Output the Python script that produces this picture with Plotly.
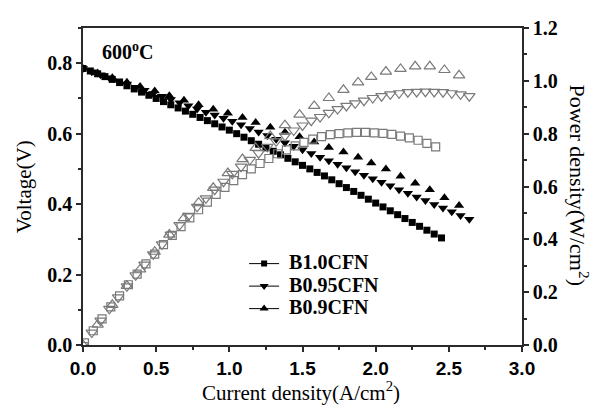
import plotly.graph_objects as go

# ---------------- data ----------------
# B1.0CFN
i_v_b10 = [0.00, 0.05, 0.10, 0.15, 0.20, 0.25, 0.30, 0.35, 0.40, 0.45, 0.50, 0.55, 0.60, 0.65, 0.70,
           0.75, 0.80, 0.85, 0.90, 0.95, 1.00, 1.05, 1.10, 1.15, 1.20, 1.25, 1.30, 1.35, 1.40, 1.45,
           1.50, 1.55, 1.60, 1.65, 1.70, 1.75, 1.80, 1.85, 1.90, 1.95, 2.00, 2.05, 2.10, 2.15, 2.20,
           2.25, 2.30, 2.35, 2.40, 2.45]
v_b10 = [0.785, 0.778, 0.770, 0.762, 0.754, 0.745, 0.736, 0.727, 0.718, 0.709, 0.700, 0.691, 0.682,
         0.673, 0.664, 0.655, 0.646, 0.637, 0.628, 0.619, 0.610, 0.600, 0.590, 0.580, 0.570, 0.560,
         0.550, 0.540, 0.530, 0.520, 0.510, 0.500, 0.490, 0.480, 0.469, 0.458, 0.447, 0.436, 0.425,
         0.414, 0.403, 0.392, 0.381, 0.370, 0.359, 0.348, 0.337, 0.326, 0.315, 0.304]
i_p_b10 = [0.01, 0.07, 0.13, 0.19, 0.25, 0.31, 0.37, 0.43, 0.49, 0.55, 0.61, 0.67, 0.73, 0.79, 0.85,
           0.91, 0.97, 1.03, 1.09, 1.15, 1.21, 1.27, 1.33, 1.39, 1.45, 1.51, 1.57, 1.63, 1.69, 1.75,
           1.81, 1.87, 1.93, 1.99, 2.05, 2.11, 2.17, 2.23, 2.29, 2.35, 2.41]
p_b10 = [0.008, 0.054, 0.099, 0.144, 0.186, 0.228, 0.268, 0.307, 0.344, 0.380, 0.415, 0.448, 0.481,
         0.512, 0.541, 0.570, 0.597, 0.622, 0.645, 0.667, 0.687, 0.706, 0.724, 0.739, 0.754, 0.767,
         0.779, 0.789, 0.796, 0.800, 0.803, 0.805, 0.805, 0.803, 0.801, 0.797, 0.791, 0.784, 0.775,
         0.763, 0.750]

# B0.95CFN
i_b095 = [0.00, 0.06, 0.12, 0.18, 0.24, 0.30, 0.36, 0.42, 0.48, 0.54, 0.60, 0.66, 0.72, 0.78, 0.84,
          0.90, 0.96, 1.02, 1.08, 1.14, 1.20, 1.26, 1.32, 1.38, 1.44, 1.50, 1.56, 1.62, 1.68, 1.74,
          1.80, 1.86, 1.92, 1.98, 2.04, 2.10, 2.16, 2.22, 2.28, 2.34, 2.40, 2.46, 2.52, 2.58, 2.64]
v_b095 = [0.785, 0.776, 0.767, 0.759, 0.750, 0.741, 0.732, 0.723, 0.714, 0.706, 0.697, 0.688, 0.679,
          0.670, 0.661, 0.653, 0.644, 0.635, 0.625, 0.615, 0.605, 0.595, 0.584, 0.574, 0.564, 0.554,
          0.544, 0.533, 0.523, 0.513, 0.503, 0.492, 0.482, 0.472, 0.462, 0.452, 0.441, 0.431, 0.420,
          0.410, 0.399, 0.389, 0.378, 0.368, 0.357]
p_b095 = [0.000, 0.047, 0.092, 0.137, 0.180, 0.222, 0.264, 0.304, 0.343, 0.381, 0.418, 0.454, 0.489,
          0.523, 0.555, 0.588, 0.618, 0.648, 0.675, 0.701, 0.726, 0.750, 0.771, 0.792, 0.812, 0.831,
          0.849, 0.863, 0.879, 0.893, 0.905, 0.915, 0.925, 0.935, 0.942, 0.949, 0.953, 0.957, 0.958,
          0.959, 0.958, 0.957, 0.953, 0.949, 0.942]

# B0.9CFN
i_b09 = [0.00, 0.10, 0.20, 0.30, 0.39, 0.49, 0.59, 0.69, 0.79, 0.89, 0.99, 1.09, 1.18, 1.28, 1.38,
         1.48, 1.58, 1.68, 1.78, 1.88, 1.97, 2.07, 2.17, 2.27, 2.37, 2.47, 2.57]
v_b09 = [0.785, 0.772, 0.759, 0.746, 0.734, 0.721, 0.708, 0.695, 0.682, 0.669, 0.658, 0.646, 0.632,
         0.618, 0.604, 0.591, 0.576, 0.561, 0.548, 0.533, 0.517, 0.500, 0.479, 0.459, 0.441, 0.418,
         0.396]
p_b09 = [0.000, 0.077, 0.152, 0.224, 0.286, 0.353, 0.418, 0.480, 0.539, 0.595, 0.651, 0.704, 0.746,
         0.791, 0.832, 0.872, 0.905, 0.935, 0.966, 0.994, 1.015, 1.035, 1.045, 1.055, 1.055, 1.041,
         1.021]

names = ["B1.0CFN", "B0.95CFN", "B0.9CFN"]
x_ticks = [0.0, 0.5, 1.0, 1.5, 2.0, 2.5, 3.0]
y1_ticks = [0.0, 0.2, 0.4, 0.6, 0.8]
y2_ticks = [0.0, 0.2, 0.4, 0.6, 0.8, 1.0, 1.2]

# ---------------- figure ----------------
SERIF = "Liberation Serif"
SANS = "Liberation Sans"
GREY = "#7a7a7a"
AX = "#2a2a2a"

fig = go.Figure()

# voltage (filled, left axis)
fig.add_trace(go.Scatter(x=i_v_b10, y=v_b10, mode="markers", showlegend=False,
                         marker=dict(symbol="square", size=7, color="black")))
fig.add_trace(go.Scatter(x=i_b095, y=v_b095, mode="markers", showlegend=False,
                         marker=dict(symbol="triangle-down", size=9, color="black")))
fig.add_trace(go.Scatter(x=i_b09, y=v_b09, mode="markers", showlegend=False,
                         marker=dict(symbol="triangle-up", size=9, color="black")))

# power (open, right axis)
fig.add_trace(go.Scatter(x=i_p_b10, y=p_b10, mode="markers", yaxis="y2", showlegend=False,
                         marker=dict(symbol="square-open", size=8, color=GREY, line=dict(width=1.2))))
fig.add_trace(go.Scatter(x=i_b095, y=p_b095, mode="markers", yaxis="y2", showlegend=False,
                         marker=dict(symbol="triangle-down-open", size=10, color=GREY, line=dict(width=1.2))))
fig.add_trace(go.Scatter(x=i_b09, y=p_b09, mode="markers", yaxis="y2", showlegend=False,
                         marker=dict(symbol="triangle-up-open", size=10, color=GREY, line=dict(width=1.2))))

# legend entries (line + marker symbol)
for nm, sym, sz in zip(names, ["square", "triangle-down", "triangle-up"], [6, 8, 8]):
    fig.add_trace(go.Scatter(x=[None], y=[None], mode="lines+markers",
                             name=f'<span style="font-size:20px">&nbsp;{nm}</span>',
                             line=dict(color="black", width=1),
                             marker=dict(symbol=sym, size=sz, color="black")))

axis_common = dict(showline=True, linecolor=AX, linewidth=1.6, showgrid=False,
                   zeroline=False, ticks="outside", ticklen=5, tickwidth=1.5, tickcolor=AX)
minor_common = dict(ticks="outside", ticklen=3, tickcolor=AX, tickwidth=1.5)

# page body has an 8px margin -> figure is 8px smaller and margins shifted accordingly
fig.update_layout(
    width=594, height=398,
    margin=dict(l=75, r=80, t=9, b=61),
    paper_bgcolor="white", plot_bgcolor="white",
    xaxis=dict(range=[0, 3.0], tickvals=x_ticks, ticktext=[f"{v:.1f}" for v in x_ticks],
               mirror=True, minor=dict(dtick=0.25, **minor_common),
               tickfont=dict(family=SANS, size=19, color="black", weight="bold"),
               **axis_common),
    yaxis=dict(range=[0, 0.9], tickvals=y1_ticks, ticktext=[f"{v:.1f}" for v in y1_ticks],
               minor=dict(dtick=0.1, **minor_common),
               tickfont=dict(family=SERIF, size=20, color="black", weight="bold"),
               **axis_common),
    yaxis2=dict(range=[0, 1.2], tickvals=y2_ticks, ticktext=[f"{v:.1f}" for v in y2_ticks],
                overlaying="y", side="right", minor=dict(dtick=0.1, **minor_common),
                tickfont=dict(family=SERIF, size=20, color="black", weight="bold"),
                **axis_common),
    legend=dict(x=0.367, y=0.308, xanchor="left", yanchor="top", bgcolor="rgba(0,0,0,0)",
                font=dict(family=SERIF, size=15, color="black", weight="bold"),
                tracegroupgap=0, itemwidth=30),
    annotations=[
        dict(text="600<sup>o</sup>C", x=0.039, y=0.927, xref="paper", yref="paper",
             xanchor="left", yanchor="middle", showarrow=False,
             font=dict(family=SERIF, size=20, color="black", weight="bold")),
        dict(text="Current density(A/cm<sup>2</sup>)", x=0.497, y=-0.146, xref="paper", yref="paper",
             xanchor="center", yanchor="middle", showarrow=False,
             font=dict(family=SERIF, size=21, color="black")),
        dict(text="Voltage(V)", x=-0.135, y=0.5, xref="paper", yref="paper",
             xanchor="center", yanchor="middle", textangle=-90, showarrow=False,
             font=dict(family=SERIF, size=21, color="black")),
        dict(text="Power density(W/cm<sup>2</sup>)", x=1.132, y=0.503, xref="paper", yref="paper",
             xanchor="center", yanchor="middle", textangle=90, showarrow=False,
             font=dict(family=SERIF, size=22, color="black")),
    ],
)

fig.write_html("out.html")
